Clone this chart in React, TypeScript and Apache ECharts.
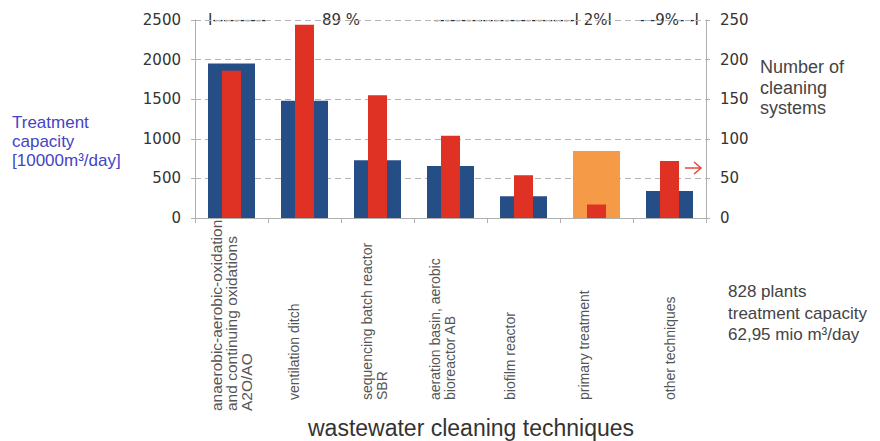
import React, { useEffect, useRef } from "react";
import * as echarts from "echarts";

const categories = [
  "anaerobic-aerobic-oxidation\nand continuing oxidations\nA2O/AO",
  "ventilation ditch",
  "sequencing batch reactor\nSBR",
  "aeration basin, aerobic\nbioreactor AB",
  "biofilm reactor",
  "primary treatment",
  "other techniques",
];
// treatment capacity [10000 m³/day] (left axis)
const capacity = [1950, 1480, 730, 655, 275, 845, 340];
// number of cleaning systems (right axis)
const systems = [186, 244, 155, 104, 54, 17, 72];
const highlightIndex = 5; // primary treatment drawn in orange

const leftAxisMax = 2500;
const leftAxisStep = 500;
const rightAxisMax = 250;
const rightAxisStep = 50;

// style: extra spacer (px) that nudges some category labels to the left
const labelSpacer = [0, 22, 6, 16, 28, 26, 0];

const BLUE = "#264e86";
const RED = "#e03125";
const ORANGE = "#f59b48";
const AXIS = "#b0b0b0";

export default function App() {
  const ref = useRef<HTMLDivElement>(null);

  useEffect(() => {
    if (!ref.current) return;
    const chart = echarts.init(ref.current, undefined, { renderer: "svg" });

    const rich: Record<string, any> = {
      big: { fontSize: 15.5, lineHeight: 15, fontFamily: "Liberation Sans", color: "#555" },
      n: {
        fontSize: 14,
        lineHeight: 15,
        fontFamily: "Liberation Sans",
        color: "#555",
        padding: [0, 0, 0, 11],
      },
    };
    labelSpacer.forEach((h) => {
      if (h) rich["sp" + h] = { lineHeight: h, height: h, fontSize: 2 };
    });

    const option: any = {
      animation: false,
      backgroundColor: "#ffffff",
      grid: { left: 195, right: 174, top: 20, bottom: 223 },
      xAxis: [
        {
          type: "category",
          data: categories,
          axisLine: { show: true, lineStyle: { color: AXIS, width: 1 } },
          axisTick: { show: true, length: 5, lineStyle: { color: AXIS } },
          axisLabel: {
            interval: 0,
            rotate: 90,
            align: "left",
            verticalAlign: "middle",
            margin: 193,
            fontFamily: "Liberation Sans",
            fontSize: 14,
            lineHeight: 15,
            color: "#555",
            rich,
            formatter: (value: string, idx: number) => {
              const key = idx === 0 ? "big" : "n";
              const body = value
                .split("\n")
                .map((l) => "{" + key + "|" + l + "}")
                .join("\n");
              const h = labelSpacer[idx];
              return h ? body + "\n{sp" + h + "| }" : body;
            },
          },
        },
        {
          type: "category",
          data: categories,
          show: false,
        },
      ],
      yAxis: [
        {
          type: "value",
          min: 0,
          max: leftAxisMax,
          interval: leftAxisStep,
          position: "left",
          axisLine: { show: true, lineStyle: { color: AXIS } },
          axisTick: { show: true, length: 4, lineStyle: { color: AXIS } },
          axisLabel: {
            margin: 14,
            fontFamily: "DejaVu Sans",
            fontSize: 15,
            color: "#333",
            formatter: (v: number) => String(v),
          },
          splitLine: {
            show: true,
            lineStyle: { color: "#b5b5b5", type: [6, 4], width: 1 },
          },
        },
        {
          type: "value",
          min: 0,
          max: rightAxisMax,
          interval: rightAxisStep,
          position: "right",
          axisLine: { show: true, lineStyle: { color: AXIS } },
          axisTick: { show: true, length: 4, lineStyle: { color: AXIS } },
          axisLabel: {
            margin: 14,
            fontFamily: "DejaVu Sans",
            fontSize: 15,
            color: "#333",
            formatter: (v: number) => String(v),
          },
          splitLine: { show: false },
        },
      ],
      series: [
        {
          name: "Treatment capacity",
          type: "bar",
          xAxisIndex: 0,
          yAxisIndex: 0,
          barWidth: 47,
          z: 2,
          itemStyle: { color: BLUE },
          data: capacity.map((v, i) =>
            i === highlightIndex ? { value: v, itemStyle: { color: ORANGE } } : v
          ),
        },
        {
          name: "Number of cleaning systems",
          type: "bar",
          xAxisIndex: 1,
          yAxisIndex: 1,
          barWidth: 19,
          z: 3,
          itemStyle: { color: RED },
          data: systems,
        },
      ],
      graphic: [
        {
          type: "text",
          left: 12,
          top: 113,
          style: {
            text: "Treatment\ncapacity\n[10000m³/day]",
            fill: "#4444c4",
            font: "17px 'Liberation Sans'",
            lineHeight: 19,
          },
        },
        {
          type: "text",
          left: 760,
          top: 57,
          style: {
            text: "Number of\ncleaning\nsystems",
            fill: "#444",
            font: "18px 'Liberation Sans'",
            lineHeight: 20.5,
          },
        },
        {
          type: "text",
          left: 728,
          top: 281,
          style: {
            text: "828 plants\ntreatment capacity\n62,95 mio m³/day",
            fill: "#444",
            font: "17px 'Liberation Sans'",
            lineHeight: 21.5,
          },
        },
        {
          type: "text",
          x: 471,
          y: 428,
          style: {
            text: "wastewater cleaning techniques",
            fill: "#333",
            font: "23px 'Liberation Sans'",
            textAlign: "center",
            textVerticalAlign: "middle",
          },
        },
        {
          type: "text",
          x: 208,
          y: 20,
          style: {
            text: "I----------",
            fill: "#333",
            font: "15px 'DejaVu Sans'",
            textVerticalAlign: "middle",
          },
        },
        {
          type: "text",
          x: 322,
          y: 20,
          style: {
            text: "89 %",
            fill: "#333",
            font: "15px 'DejaVu Sans'",
            textVerticalAlign: "middle",
          },
        },
        {
          type: "text",
          x: 612,
          y: 20,
          style: {
            text: "--------------------------I 2%I",
            fill: "#333",
            font: "15px 'DejaVu Sans'",
            textAlign: "right",
            textVerticalAlign: "middle",
          },
        },
        {
          type: "text",
          x: 699,
          y: 20,
          style: {
            text: "- -9%- -I",
            fill: "#333",
            font: "15px 'DejaVu Sans'",
            textAlign: "right",
            textVerticalAlign: "middle",
          },
        },
        {
          type: "line",
          shape: { x1: 685, y1: 168, x2: 701, y2: 168 },
          style: { stroke: "#e8453c", lineWidth: 1.5 },
        },
        {
          type: "polyline",
          shape: { points: [[694, 162], [701, 168], [694, 174]] },
          style: { stroke: "#e8453c", lineWidth: 1.5, fill: "none" },
        },
      ],
    };

    chart.setOption(option);
    return () => chart.dispose();
  }, []);

  return (
    <div
      ref={ref}
      style={{ position: "absolute", left: 0, top: 0, width: 880, height: 441 }}
    />
  );
}
